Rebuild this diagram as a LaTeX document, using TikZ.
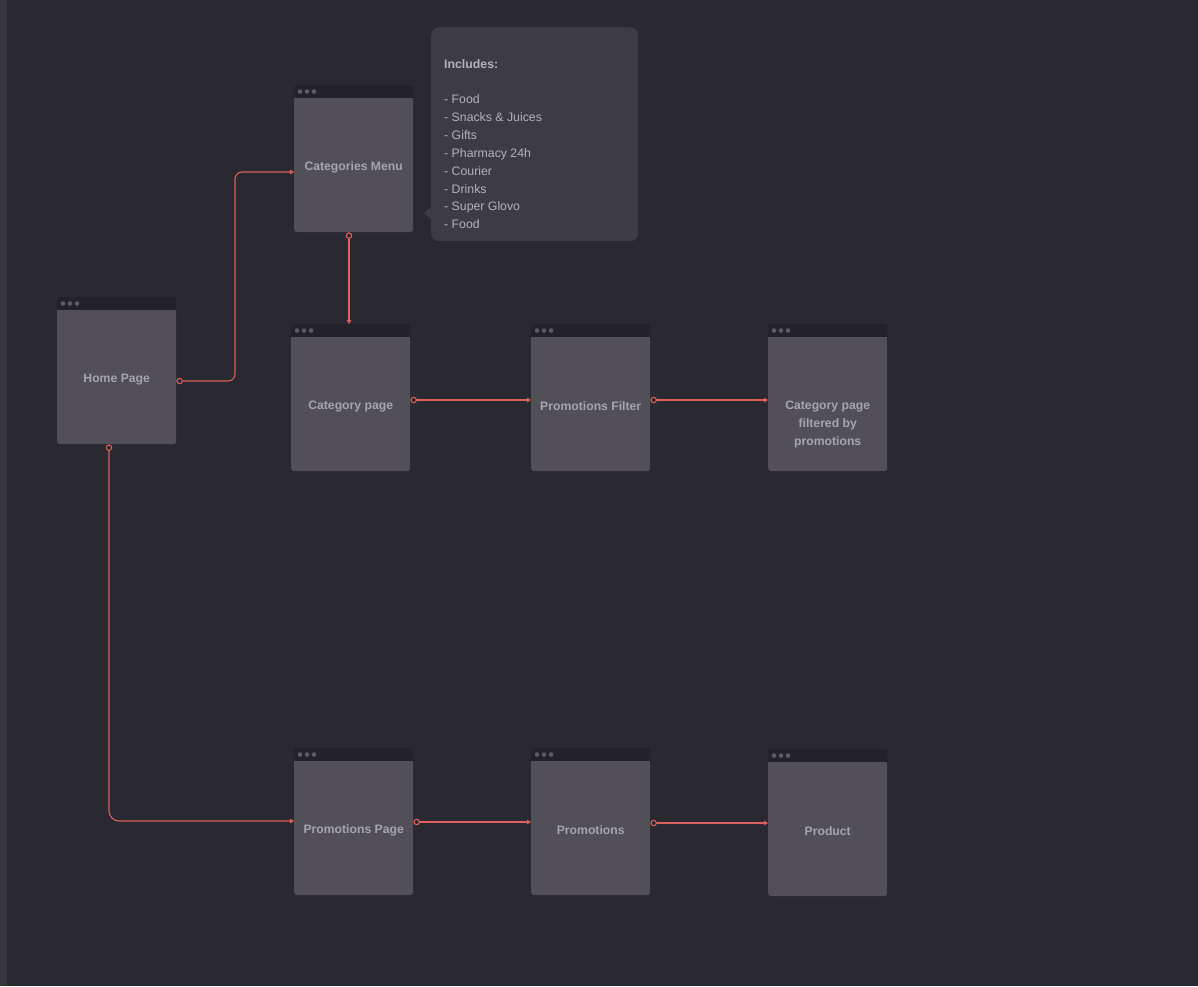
\documentclass[tikz,border=0pt]{standalone}
\usepackage{fontspec}
\setmainfont{Liberation Sans}
\usetikzlibrary{arrows.meta}
\definecolor{bgc}{HTML}{2A2831}
\definecolor{stripc}{HTML}{38373B}
\definecolor{bodyc}{HTML}{524F57}
\definecolor{hdrc}{HTML}{232129}
\definecolor{dotc}{HTML}{5C5A62}
\definecolor{txtc}{HTML}{A6A4AC}
\definecolor{tipc}{HTML}{3D3B44}
\definecolor{tiptxt}{HTML}{B4B2B9}
\definecolor{linkc}{HTML}{DC605C}
\tikzset{
  scrbody/.style={fill=bodyc, rounded corners=3pt, inner sep=0pt, anchor=north west,
    minimum width=119pt, minimum height=134pt},
  scrlabel/.style={inner sep=0pt, text=txtc, align=center,
    font=\fontsize{12.2}{18}\selectfont\bfseries},
  conn/.style={draw=linkc, line width=1.1pt,
    {Circle[length=6.5pt, width=6.5pt, fill=bgc, line width=1.1pt]}-{Triangle[length=4pt, width=4.5pt]}},
}
\newcommand\screenbox[5]{% name, x, y(top of header), label, label shift
  \node[scrbody] (#1) at (#2,#3+13) {};
  \fill[hdrc, rounded corners=3pt] ([yshift=13pt]#1.north west) rectangle ([yshift=-5pt]#1.north east);
  \fill[bodyc] (#1.north west) rectangle ([yshift=-6pt]#1.north east);
  \foreach \dx in {6,13,20} \fill[dotc] ([xshift=\dx pt, yshift=6.5pt]#1.north west) circle (2.3pt);
  \node[scrlabel] (#1-label) at ([yshift=#5]#1.center) {#4};
}
\begin{document}
\begin{tikzpicture}[x=1pt, y=-1pt]
\fill[bgc] (0,0) rectangle (1198,986);
\fill[stripc] (0,0) rectangle (7,986);
\useasboundingbox (0,0) rectangle (1198,986);

% tooltip
\node[fill=tipc, rounded corners=8pt, minimum width=207pt, minimum height=214pt, anchor=north west, inner sep=0pt] (tip) at (431,27) {};
\fill[tipc] (432,206) -- (424,213) -- (432,220) -- cycle;
\node[anchor=north west, inner sep=0pt, align=left, text=tiptxt, font=\fontsize{12.3}{17.85}\selectfont] (tiptext) at (444,59)
  {\textbf{Includes:}\\ \mbox{}\\- Food\\- Snacks \& Juices\\- Gifts\\- Pharmacy 24h\\- Courier\\- Drinks\\- Super Glovo\\- Food};

\screenbox{catmenu}{294}{85}{Categories Menu}{-2pt}
\screenbox{home}{57}{297}{Home Page}{-2pt}
\screenbox{catpage}{291}{324}{Category page}{-2pt}
\screenbox{promofilter}{531}{324}{Promotions Filter}{-2pt}
\screenbox{catfiltered}{768}{324}{Category page\\filtered by\\promotions}{-20pt}
\screenbox{promopage}{294}{748}{Promotions Page}{-2pt}
\screenbox{promos}{531}{748}{Promotions}{-2pt}
\screenbox{product}{768}{749}{Product}{-2pt}

\coordinate (catpagetop) at ([yshift=13pt]catpage.north);
\coordinate (promopagemid) at (promopage.west |- 0,821);

\draw[conn, rounded corners=7pt] (home.east |- 0,381) -- (235,381) -- (235,172) -- (catmenu.west |- 0,172);
\draw[conn] (catmenu.south -| 349,0) -- (catpagetop -| 349,0);
\draw[conn] (catpage.east |- 0,400) -- (promofilter.west |- 0,400);
\draw[conn] (promofilter.east |- 0,400) -- (catfiltered.west |- 0,400);
\draw[conn, rounded corners=10pt] (home.south -| 109,0) -- (109,821) -- (promopagemid);
\draw[conn] (promopage.east |- 0,822) -- (promos.west |- 0,822);
\draw[conn] (promos.east |- 0,823) -- (product.west |- 0,823);
\end{tikzpicture}
\end{document}
